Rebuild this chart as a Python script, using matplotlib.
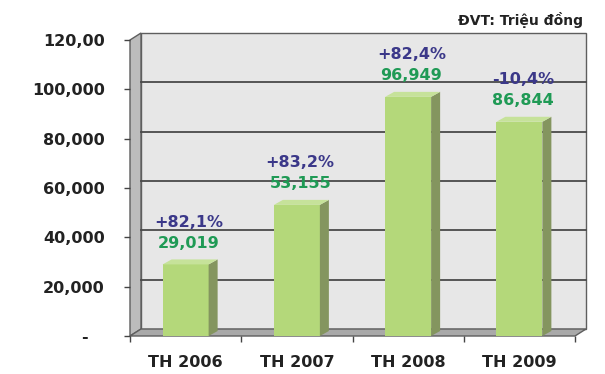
import matplotlib

matplotlib.use("Agg")
import matplotlib.pyplot as plt
from matplotlib.patches import Polygon, Rectangle

categories = ["TH 2006", "TH 2007", "TH 2008", "TH 2009"]
values = [29019, 53155, 96949, 86844]
value_labels = ["29,019", "53,155", "96,949", "86,844"]
growth_labels = ["+82,1%", "+83,2%", "+82,4%", "-10,4%"]
y_ticks = [0, 20000, 40000, 60000, 80000, 100000, 120000]
y_tick_labels = ["-   ", "20,000", "40,000", "60,000", "80,000", "100,000", "120,00"]
unit_note = "ĐVT: Triệu đồng"

plt.rcParams["font.family"] = ["DejaVu Sans"]

fig = plt.figure(figsize=(6.05, 3.74), dpi=100)
ax = fig.add_axes([130 / 605, 38 / 374, 445 / 605, 296 / 374])
ax.set_xlim(0.5, 4.5)
ax.set_ylim(0, 120000)

# pixel -> data conversion for the fake 3D depth
px_x = 4.0 / 445
px_y = 120000 / 296
dx, dy = 11 * px_x, 7 * px_y
bdx, bdy = 9 * px_x, 5 * px_y

x0, x1, ytop = 0.5, 4.5, 120000
wall_kw = dict(clip_on=False, edgecolor="#5e5e5e", linewidth=1.0)

# back wall, side wall, floor
ax.add_patch(Rectangle((x0 + dx, dy), x1 - x0, ytop, facecolor="#e7e7e7", zorder=1, **wall_kw))
ax.add_patch(Polygon([(x0, 0), (x0, ytop), (x0 + dx, ytop + dy), (x0 + dx, dy)],
                     facecolor="#bcbcbc", zorder=1, **wall_kw))
ax.add_patch(Polygon([(x0, 0), (x1, 0), (x1 + dx, dy), (x0 + dx, dy)],
                     facecolor="#a9a9a9", zorder=1, **wall_kw))

for v in y_ticks[1:-1]:
    ax.plot([x0 + dx, x1 + dx], [v + dy, v + dy], color="#4a4a4a", lw=1.3, zorder=2, clip_on=False)

# bars
width = 46 * px_x
for i, v in enumerate(values):
    xc = i + 1
    left, right = xc - width / 2, xc + width / 2
    ax.add_patch(Rectangle((left, 0), width, v, facecolor="#b4d87a", edgecolor="none", zorder=3))
    ax.add_patch(Polygon([(right, 0), (right, v), (right + bdx, v + bdy), (right + bdx, bdy)],
                         facecolor="#84955f", edgecolor="none", zorder=3))
    ax.add_patch(Polygon([(left, v), (right, v), (right + bdx, v + bdy), (left + bdx, v + bdy)],
                         facecolor="#c6e29a", edgecolor="none", zorder=3))
    ax.text(xc + 0.03, v + 21 * px_y, value_labels[i], ha="center", va="center",
            fontsize=11.5, fontweight="bold", color="#1f9a55", zorder=5)
    ax.text(xc + 0.03, v + 42 * px_y, growth_labels[i], ha="center", va="center",
            fontsize=11.5, fontweight="bold", color="#3b3889", zorder=5)

for s in ax.spines.values():
    s.set_visible(False)

ax.set_yticks(y_ticks)
ax.set_yticklabels(y_tick_labels)
ax.tick_params(axis="y", direction="out", length=4, width=1, color="#444444",
               pad=14, labelsize=11.5, labelcolor="#222222")
for lbl in ax.get_yticklabels():
    lbl.set_fontweight("bold")

ax.set_xticks([0.5, 1.5, 2.5, 3.5, 4.5])
ax.set_xticklabels([])
ax.set_xticks([1, 2, 3, 4], minor=True)
ax.set_xticklabels(categories, minor=True)
ax.tick_params(axis="x", which="major", direction="out", length=4, width=1, color="#444444")
ax.tick_params(axis="x", which="minor", length=0, pad=14, labelsize=11.5, labelcolor="#222222")
for lbl in ax.get_xticklabels(minor=True):
    lbl.set_fontweight("bold")

fig.text(583 / 605, 1 - 20 / 374, unit_note, ha="right", va="center",
         fontsize=10, fontweight="bold", color="#222222")

fig.savefig("out.png", dpi=100)
